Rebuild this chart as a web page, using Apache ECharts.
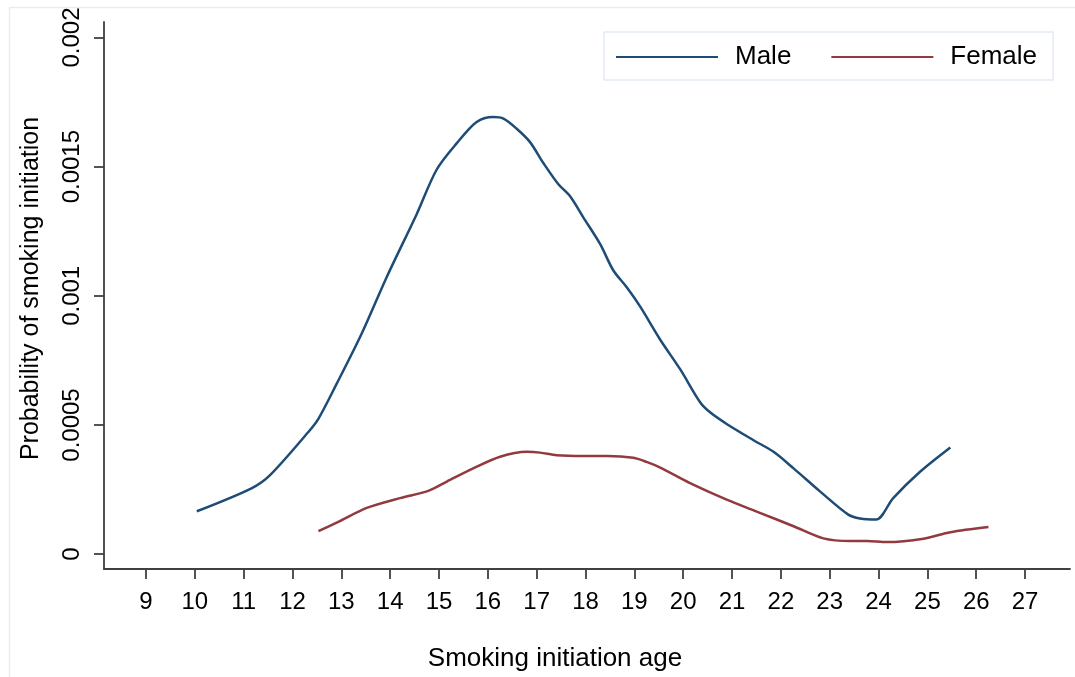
<!DOCTYPE html>
<html>
<head>
<meta charset="utf-8">
<script src="https://cdn.jsdelivr.net/npm/echarts@6/dist/echarts.min.js"></script>
<style>html,body{margin:0;padding:0;background:#fff;}#c{width:1075px;height:677px;}</style>
</head>
<body>
<div id="c"></div>
<script>
const maleAge = [10.04, 11.16, 11.54, 12.32, 12.53, 12.90, 13.42, 13.93, 14.54, 14.95, 15.36, 15.77, 16.11, 16.32, 16.59, 16.86, 17.14, 17.44, 17.68, 17.96, 18.30, 18.57, 18.84, 19.12, 19.53, 19.94, 20.35, 20.55, 20.89, 21.44, 21.85, 22.26, 22.80, 23.38, 23.62, 23.95, 24.30, 24.85, 25.47];
const maleProb = [0.000166, 0.000255, 0.000306, 0.000472, 0.000524, 0.000658, 0.000855, 0.001073, 0.001315, 0.001488, 0.001590, 0.001673, 0.001692, 0.001686, 0.001647, 0.001596, 0.001513, 0.001433, 0.001386, 0.001302, 0.001200, 0.001098, 0.001034, 0.000958, 0.000830, 0.000715, 0.000587, 0.000549, 0.000504, 0.000441, 0.000396, 0.000332, 0.000243, 0.000153, 0.000138, 0.000134, 0.000217, 0.000319, 0.000413];
const femaleAge = [12.53, 12.97, 13.52, 14.20, 14.78, 15.16, 15.70, 16.25, 16.80, 17.07, 17.41, 17.96, 18.44, 18.98, 19.25, 19.53, 20.14, 20.89, 21.57, 22.26, 22.87, 23.42, 23.76, 24.17, 24.92, 25.47, 26.25];
const femaleProb = [0.000089, 0.000128, 0.000179, 0.000217, 0.000245, 0.000281, 0.000332, 0.000377, 0.000396, 0.000393, 0.000383, 0.000380, 0.000380, 0.000373, 0.000357, 0.000335, 0.000275, 0.000211, 0.000160, 0.000108, 0.000061, 0.000051, 0.000051, 0.000047, 0.000060, 0.000085, 0.000105];
const xTicks = [9,10,11,12,13,14,15,16,17,18,19,20,21,22,23,24,25,26,27];
const yTicks = [0, 0.0005, 0.001, 0.0015, 0.002];
const yTickLabels = ["0", "0.0005", "0.001", "0.0015", "0.002"];
const seriesNames = ["Male", "Female"];
const seriesColors = ["#1f4c76", "#923a40"];

const FONT = "Liberation Sans, Arial, sans-serif";
const pairs = (xs, ys) => xs.map((x, i) => [x, ys[i]]);
const axisCol = "#404040";

const chart = echarts.init(document.getElementById('c'), null, {renderer: 'canvas'});
chart.setOption({
  animation: false,
  backgroundColor: '#ffffff',
  textStyle: {fontFamily: FONT},
  graphic: [{
    type: 'rect', left: 7, top: 5, silent: true,
    shape: {width: 1200, height: 800},
    style: {fill: 'none', stroke: '#e6eef4', lineWidth: 1.5}
  }],
  grid: {left: 104, top: 22, right: 5, bottom: 102, containLabel: false},
  legend: {
    left: 604, top: 32,
    data: seriesNames,
    icon: 'rect', itemWidth: 102, itemHeight: 2, itemGap: 40,
    padding: [11, 16, 9, 12],
    borderColor: '#e3ecf3', borderWidth: 1.5,
    textStyle: {fontFamily: FONT, fontSize: 26, color: '#000', padding: [2, 0, 0, 12], lineHeight: 26}
  },
  xAxis: {
    type: 'value', min: 8.14, max: 27.92,
    name: 'Smoking initiation age', nameLocation: 'middle', nameGap: 77,
    nameTextStyle: {fontFamily: FONT, fontSize: 26, color: '#000', padding: [0, 64, 0, 0]},
    axisLine: {show: true, onZero: false, lineStyle: {color: axisCol, width: 1.8}},
    axisTick: {show: true, length: 10, customValues: xTicks, lineStyle: {color: axisCol, width: 1.8}},
    axisLabel: {customValues: xTicks, fontFamily: FONT, fontSize: 24, color: '#000', margin: 21},
    splitLine: {show: false}
  },
  yAxis: {
    type: 'value', min: -0.0000575, max: 0.00206,
    name: 'Probability of smoking initiation', nameLocation: 'middle', nameGap: 60,
    nameTextStyle: {fontFamily: FONT, fontSize: 25, color: '#000', padding: [0, 0, 0, 14]},
    axisLine: {show: true, onZero: false, lineStyle: {color: axisCol, width: 1.8}},
    axisTick: {show: true, length: 10, customValues: yTicks, lineStyle: {color: axisCol, width: 1.8}},
    axisLabel: {
      customValues: yTicks, rotate: 90, fontFamily: FONT, fontSize: 24, color: '#000', margin: 20,
      formatter: function (v) {
        for (let i = 0; i < yTicks.length; i++) if (Math.abs(yTicks[i] - v) < 1e-9) return yTickLabels[i];
        return '';
      }
    },
    splitLine: {show: false}
  },
  series: [
    {name: seriesNames[0], type: 'line', data: pairs(maleAge, maleProb), showSymbol: false, symbol: 'none',
     smooth: 0.3, lineStyle: {color: seriesColors[0], width: 2.5}, itemStyle: {color: seriesColors[0]}},
    {name: seriesNames[1], type: 'line', data: pairs(femaleAge, femaleProb), showSymbol: false, symbol: 'none',
     smooth: 0.3, lineStyle: {color: seriesColors[1], width: 2.5}, itemStyle: {color: seriesColors[1]}}
  ]
});
</script>
</body>
</html>
